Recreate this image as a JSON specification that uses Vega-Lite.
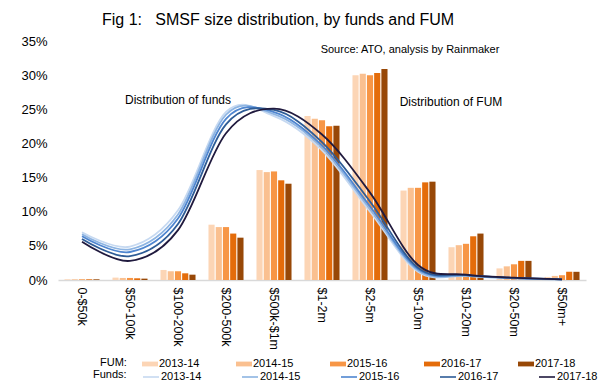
{
  "$schema": "https://vega.github.io/schema/vega-lite/v6.json",
  "width": 528,
  "height": 239,
  "autosize": {"type": "none"},
  "padding": {"left": 58, "top": 41, "right": 16, "bottom": 109},
  "background": "white",
  "title": {
    "text": "Fig 1:\u00a0\u00a0\u00a0SMSF size distribution, by funds and FUM",
    "anchor": "start",
    "frame": "group",
    "dx": 44,
    "offset": 7,
    "fontSize": 16,
    "font": "Liberation Sans",
    "fontWeight": "normal",
    "color": "#000000"
  },
  "datasets": {
    "fum": [
      {"size": "0-$50k", "year": "2013-14", "fum": 0.001},
      {"size": "0-$50k", "year": "2014-15", "fum": 0.001},
      {"size": "0-$50k", "year": "2015-16", "fum": 0.001},
      {"size": "0-$50k", "year": "2016-17", "fum": 0.001},
      {"size": "0-$50k", "year": "2017-18", "fum": 0.001},
      {"size": "$50-100k", "year": "2013-14", "fum": 0.0035},
      {"size": "$50-100k", "year": "2014-15", "fum": 0.003},
      {"size": "$50-100k", "year": "2015-16", "fum": 0.003},
      {"size": "$50-100k", "year": "2016-17", "fum": 0.0025},
      {"size": "$50-100k", "year": "2017-18", "fum": 0.002},
      {"size": "$100-200k", "year": "2013-14", "fum": 0.0147},
      {"size": "$100-200k", "year": "2014-15", "fum": 0.0128},
      {"size": "$100-200k", "year": "2015-16", "fum": 0.0128},
      {"size": "$100-200k", "year": "2016-17", "fum": 0.0098},
      {"size": "$100-200k", "year": "2017-18", "fum": 0.0078},
      {"size": "$200-500k", "year": "2013-14", "fum": 0.081},
      {"size": "$200-500k", "year": "2014-15", "fum": 0.0775},
      {"size": "$200-500k", "year": "2015-16", "fum": 0.0775},
      {"size": "$200-500k", "year": "2016-17", "fum": 0.068},
      {"size": "$200-500k", "year": "2017-18", "fum": 0.062},
      {"size": "$500k-$1m", "year": "2013-14", "fum": 0.161},
      {"size": "$500k-$1m", "year": "2014-15", "fum": 0.158},
      {"size": "$500k-$1m", "year": "2015-16", "fum": 0.159},
      {"size": "$500k-$1m", "year": "2016-17", "fum": 0.146},
      {"size": "$500k-$1m", "year": "2017-18", "fum": 0.141},
      {"size": "$1-2m", "year": "2013-14", "fum": 0.24},
      {"size": "$1-2m", "year": "2014-15", "fum": 0.236},
      {"size": "$1-2m", "year": "2015-16", "fum": 0.234},
      {"size": "$1-2m", "year": "2016-17", "fum": 0.225},
      {"size": "$1-2m", "year": "2017-18", "fum": 0.226},
      {"size": "$2-5m", "year": "2013-14", "fum": 0.3},
      {"size": "$2-5m", "year": "2014-15", "fum": 0.302},
      {"size": "$2-5m", "year": "2015-16", "fum": 0.3},
      {"size": "$2-5m", "year": "2016-17", "fum": 0.303},
      {"size": "$2-5m", "year": "2017-18", "fum": 0.309},
      {"size": "$5-10m", "year": "2013-14", "fum": 0.131},
      {"size": "$5-10m", "year": "2014-15", "fum": 0.135},
      {"size": "$5-10m", "year": "2015-16", "fum": 0.135},
      {"size": "$5-10m", "year": "2016-17", "fum": 0.143},
      {"size": "$5-10m", "year": "2017-18", "fum": 0.144},
      {"size": "$10-20m", "year": "2013-14", "fum": 0.048},
      {"size": "$10-20m", "year": "2014-15", "fum": 0.051},
      {"size": "$10-20m", "year": "2015-16", "fum": 0.053},
      {"size": "$10-20m", "year": "2016-17", "fum": 0.064},
      {"size": "$10-20m", "year": "2017-18", "fum": 0.068},
      {"size": "$20-50m", "year": "2013-14", "fum": 0.017},
      {"size": "$20-50m", "year": "2014-15", "fum": 0.02},
      {"size": "$20-50m", "year": "2015-16", "fum": 0.023},
      {"size": "$20-50m", "year": "2016-17", "fum": 0.028},
      {"size": "$20-50m", "year": "2017-18", "fum": 0.028},
      {"size": "$50m+", "year": "2013-14", "fum": 0.0045},
      {"size": "$50m+", "year": "2014-15", "fum": 0.006},
      {"size": "$50m+", "year": "2015-16", "fum": 0.007},
      {"size": "$50m+", "year": "2016-17", "fum": 0.012},
      {"size": "$50m+", "year": "2017-18", "fum": 0.012}
    ],
    "funds": [
      {"size": "0-$50k", "period": "2013-14", "funds": 0.070},
      {"size": "$50-100k", "period": "2013-14", "funds": 0.049},
      {"size": "$100-200k", "period": "2013-14", "funds": 0.102},
      {"size": "$200-500k", "period": "2013-14", "funds": 0.246},
      {"size": "$500k-$1m", "period": "2013-14", "funds": 0.240},
      {"size": "$1-2m", "period": "2013-14", "funds": 0.190},
      {"size": "$2-5m", "period": "2013-14", "funds": 0.100},
      {"size": "$5-10m", "period": "2013-14", "funds": 0.012},
      {"size": "$10-20m", "period": "2013-14", "funds": 0.006},
      {"size": "$20-50m", "period": "2013-14", "funds": 0.0025},
      {"size": "$50m+", "period": "2013-14", "funds": 0.001},
      {"size": "0-$50k", "period": "2014-15", "funds": 0.067},
      {"size": "$50-100k", "period": "2014-15", "funds": 0.045},
      {"size": "$100-200k", "period": "2014-15", "funds": 0.096},
      {"size": "$200-500k", "period": "2014-15", "funds": 0.242},
      {"size": "$500k-$1m", "period": "2014-15", "funds": 0.243},
      {"size": "$1-2m", "period": "2014-15", "funds": 0.194},
      {"size": "$2-5m", "period": "2014-15", "funds": 0.104},
      {"size": "$5-10m", "period": "2014-15", "funds": 0.014},
      {"size": "$10-20m", "period": "2014-15", "funds": 0.006},
      {"size": "$20-50m", "period": "2014-15", "funds": 0.0025},
      {"size": "$50m+", "period": "2014-15", "funds": 0.001},
      {"size": "0-$50k", "period": "2015-16", "funds": 0.064},
      {"size": "$50-100k", "period": "2015-16", "funds": 0.041},
      {"size": "$100-200k", "period": "2015-16", "funds": 0.090},
      {"size": "$200-500k", "period": "2015-16", "funds": 0.236},
      {"size": "$500k-$1m", "period": "2015-16", "funds": 0.246},
      {"size": "$1-2m", "period": "2015-16", "funds": 0.197},
      {"size": "$2-5m", "period": "2015-16", "funds": 0.108},
      {"size": "$5-10m", "period": "2015-16", "funds": 0.016},
      {"size": "$10-20m", "period": "2015-16", "funds": 0.007},
      {"size": "$20-50m", "period": "2015-16", "funds": 0.003},
      {"size": "$50m+", "period": "2015-16", "funds": 0.001},
      {"size": "0-$50k", "period": "2016-17", "funds": 0.060},
      {"size": "$50-100k", "period": "2016-17", "funds": 0.035},
      {"size": "$100-200k", "period": "2016-17", "funds": 0.082},
      {"size": "$200-500k", "period": "2016-17", "funds": 0.228},
      {"size": "$500k-$1m", "period": "2016-17", "funds": 0.249},
      {"size": "$1-2m", "period": "2016-17", "funds": 0.202},
      {"size": "$2-5m", "period": "2016-17", "funds": 0.115},
      {"size": "$5-10m", "period": "2016-17", "funds": 0.018},
      {"size": "$10-20m", "period": "2016-17", "funds": 0.007},
      {"size": "$20-50m", "period": "2016-17", "funds": 0.003},
      {"size": "$50m+", "period": "2016-17", "funds": 0.001},
      {"size": "0-$50k", "period": "2017-18", "funds": 0.056},
      {"size": "$50-100k", "period": "2017-18", "funds": 0.028},
      {"size": "$100-200k", "period": "2017-18", "funds": 0.073},
      {"size": "$200-500k", "period": "2017-18", "funds": 0.215},
      {"size": "$500k-$1m", "period": "2017-18", "funds": 0.251},
      {"size": "$1-2m", "period": "2017-18", "funds": 0.213},
      {"size": "$2-5m", "period": "2017-18", "funds": 0.128},
      {"size": "$5-10m", "period": "2017-18", "funds": 0.022},
      {"size": "$10-20m", "period": "2017-18", "funds": 0.008},
      {"size": "$20-50m", "period": "2017-18", "funds": 0.0035},
      {"size": "$50m+", "period": "2017-18", "funds": 0.001}
    ],
    "notes": [
      {"size": "$100-200k", "share": 0.2636, "note": "Distribution of funds"},
      {"size": "$10-20m", "share": 0.2607, "note": "Distribution of FUM"},
      {"size": "$5-10m", "share": 0.337, "note": "Source: ATO, analysis by Rainmaker"}
    ]
  },
  "encoding": {
    "x": {
      "field": "size",
      "type": "nominal",
      "title": null,
      "scale": {
        "domain": ["0-$50k", "$50-100k", "$100-200k", "$200-500k", "$500k-$1m", "$1-2m", "$2-5m", "$5-10m", "$10-20m", "$20-50m", "$50m+"],
        "paddingInner": 0.27,
        "paddingOuter": 0.135
      },
      "axis": {
        "labelAngle": 90,
        "labelFontSize": 12.5,
        "labelFont": "Liberation Sans",
        "labelColor": "#000000",
        "labelPadding": 7,
        "labelOverlap": false,
        "ticks": false,
        "domainColor": "#d9d9d9",
        "domainWidth": 1.5
      }
    }
  },
  "layer": [
    {
      "data": {"name": "fum"},
      "mark": {"type": "bar"},
      "encoding": {
        "xOffset": {"field": "year", "type": "nominal", "scale": {"paddingInner": 0.15}},
        "y": {
          "field": "fum",
          "type": "quantitative",
          "title": null,
          "scale": {"domain": [0, 0.35]},
          "axis": {
            "values": [0, 0.05, 0.1, 0.15, 0.2, 0.25, 0.3, 0.35],
            "format": ".0%",
            "grid": false,
            "domain": false,
            "ticks": false,
            "labelOverlap": false,
            "labelPadding": 11,
            "labelFontSize": 13,
            "labelFont": "Liberation Sans",
            "labelColor": "#000000"
          }
        },
        "fill": {
          "field": "year",
          "type": "nominal",
          "scale": {"range": ["#fcd5b5", "#fac090", "#f79646", "#e46c0a", "#984807"]},
          "legend": {
            "title": "FUM:",
            "orient": "none",
            "legendX": 42,
            "legendY": 315,
            "direction": "horizontal",
            "columns": 5,
            "titleOrient": "left",
            "titlePadding": 15,
            "titleFontSize": 11,
            "titleFontWeight": "normal",
            "titleFont": "Liberation Sans",
            "titleColor": "#000000",
            "labelFontSize": 11,
            "labelFont": "Liberation Sans",
            "labelColor": "#000000",
            "labelOffset": 1,
            "symbolType": "M-1,-0.3H1V0.3H-1Z",
            "symbolSize": 256,
            "symbolStrokeWidth": 0,
            "columnPadding": 36,
            "padding": 0
          }
        }
      }
    },
    {
      "data": {"name": "funds"},
      "mark": {"type": "line", "interpolate": "cardinal", "strokeWidth": 1.8},
      "encoding": {
        "y": {
          "field": "funds",
          "type": "quantitative",
          "title": null,
          "axis": {
            "values": [0, 0.05, 0.1, 0.15, 0.2, 0.25, 0.3, 0.35],
            "format": ".0%",
            "grid": false,
            "domain": false,
            "ticks": false,
            "labelOverlap": false,
            "labelPadding": 11,
            "labelFontSize": 13,
            "labelFont": "Liberation Sans",
            "labelColor": "#000000"
          }
        },
        "stroke": {
          "field": "period",
          "type": "nominal",
          "scale": {"range": ["#c6d9f1", "#8db4e2", "#4f86d0", "#2e5c96", "#201a3e"]},
          "legend": {
            "title": "Funds:",
            "orient": "none",
            "legendX": 35,
            "legendY": 327,
            "direction": "horizontal",
            "columns": 5,
            "titleOrient": "left",
            "titlePadding": 15,
            "titleFontSize": 11,
            "titleFontWeight": "normal",
            "titleFont": "Liberation Sans",
            "titleColor": "#000000",
            "labelFontSize": 11,
            "labelFont": "Liberation Sans",
            "labelColor": "#000000",
            "labelOffset": 1,
            "symbolType": "stroke",
            "symbolSize": 256,
            "symbolStrokeWidth": 1.6,
            "columnPadding": 36,
            "padding": 0
          }
        }
      }
    },
    {
      "data": {"name": "notes"},
      "transform": [{"filter": "datum.note == 'Distribution of funds'"}],
      "mark": {"type": "text", "font": "Liberation Sans", "fontSize": 12, "baseline": "middle", "align": "center", "color": "#000000"},
      "encoding": {
        "y": {"field": "share", "type": "quantitative", "title": null, "axis": {"values": [0, 0.05, 0.1, 0.15, 0.2, 0.25, 0.3, 0.35], "format": ".0%", "grid": false, "domain": false, "ticks": false, "labelOverlap": false, "labelPadding": 11, "labelFontSize": 13, "labelFont": "Liberation Sans", "labelColor": "#000000"}},
        "text": {"field": "note"}
      }
    },
    {
      "data": {"name": "notes"},
      "transform": [{"filter": "datum.note == 'Distribution of FUM'"}],
      "mark": {"type": "text", "font": "Liberation Sans", "fontSize": 12, "baseline": "middle", "align": "center", "dx": -15, "color": "#000000"},
      "encoding": {
        "y": {"field": "share", "type": "quantitative", "title": null, "axis": {"values": [0, 0.05, 0.1, 0.15, 0.2, 0.25, 0.3, 0.35], "format": ".0%", "grid": false, "domain": false, "ticks": false, "labelOverlap": false, "labelPadding": 11, "labelFontSize": 13, "labelFont": "Liberation Sans", "labelColor": "#000000"}},
        "text": {"field": "note"}
      }
    },
    {
      "data": {"name": "notes"},
      "transform": [{"filter": "datum.note == 'Source: ATO, analysis by Rainmaker'"}],
      "mark": {"type": "text", "font": "Liberation Sans", "fontSize": 11, "baseline": "middle", "align": "center", "dx": -8, "color": "#000000"},
      "encoding": {
        "y": {"field": "share", "type": "quantitative", "title": null, "axis": {"values": [0, 0.05, 0.1, 0.15, 0.2, 0.25, 0.3, 0.35], "format": ".0%", "grid": false, "domain": false, "ticks": false, "labelOverlap": false, "labelPadding": 11, "labelFontSize": 13, "labelFont": "Liberation Sans", "labelColor": "#000000"}},
        "text": {"field": "note"}
      }
    }
  ],
  "config": {
    "view": {"stroke": null},
    "font": "Liberation Sans",
    "axisY": {"labelOverlap": false}
  }
}
